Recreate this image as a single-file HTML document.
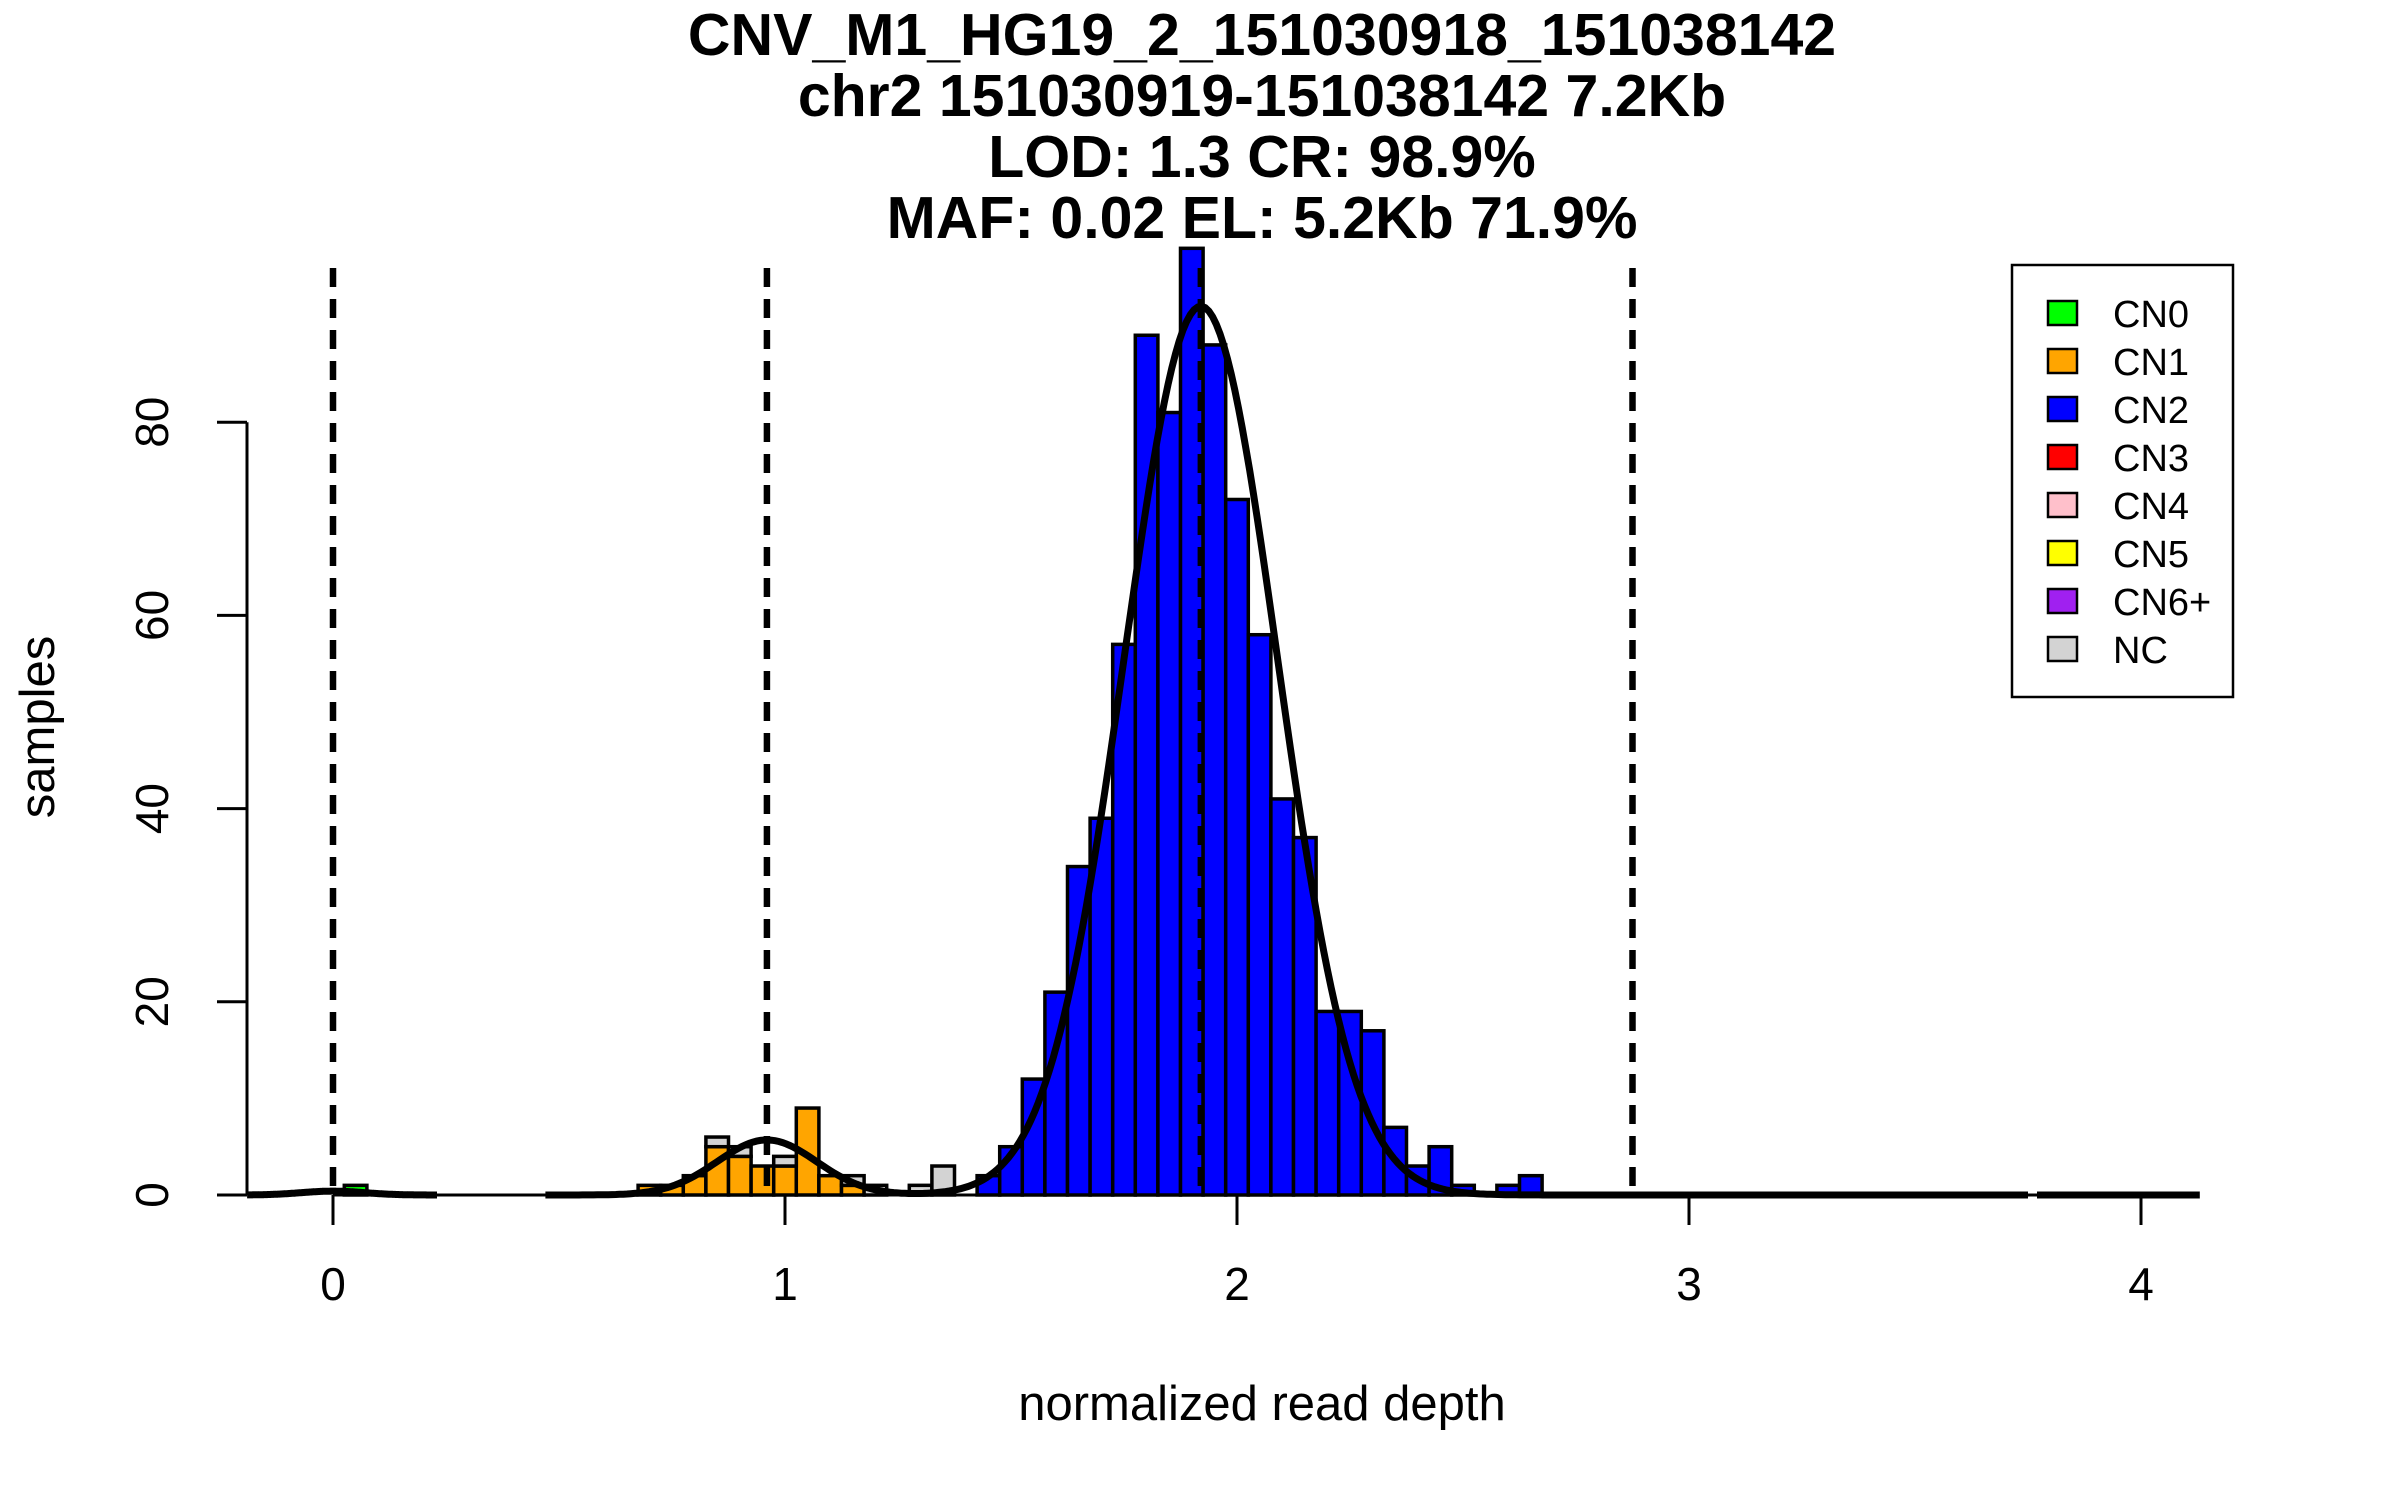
<!DOCTYPE html>
<html><head><meta charset="utf-8"><style>
html,body{margin:0;padding:0;background:#fff}
svg{display:block;font-family:"Liberation Sans",sans-serif}
</style></head><body>
<svg id="chart" width="2400" height="1500" viewBox="0 0 2400 1500" xmlns="http://www.w3.org/2000/svg">
<g id="titles" font-weight="bold" font-size="59" text-anchor="middle">
<text x="1262" y="55">CNV_M1_HG19_2_151030918_151038142</text>
<text x="1262" y="116">chr2 151030919-151038142 7.2Kb</text>
<text x="1262" y="177">LOD: 1.3 CR: 98.9%</text>
<text x="1262" y="238">MAF: 0.02 EL: 5.2Kb 71.9%</text>
</g>
<g id="bars"></g>
<g id="curves"></g>
<g id="vlines"></g>
<g id="axes"></g>
<text x="1262" y="1420" font-size="49" text-anchor="middle">normalized read depth</text>
<text transform="translate(54,727) rotate(-90)" font-size="49" text-anchor="middle">samples</text>
<g id="legend"></g>
</svg>
<script>
// ---- data ----
const binWidth = 0.05;
const blueStarts = [1.425,1.475,1.525,1.575,1.625,1.675,1.725,1.775,1.825,1.875,1.925,1.975,2.025,2.075,2.125,2.175,2.225,2.275,2.325,2.375,2.425,2.475,2.525,2.575,2.625];
const blueCounts = [2,5,12,21,34,39,57,89,81,98,88,72,58,41,37,19,19,17,7,3,5,1,0,1,2];
const orangeStarts = [0.675,0.725,0.775,0.825,0.875,0.925,0.975,1.025,1.075,1.125];
const orangeCounts = [1,1,2,5,4,3,3,9,2,1];
const grayStarts = [0.825,0.875,0.975,1.125,1.175,1.275,1.325];
const grayBase = [5,4,3,1,0,0,0];
const grayCounts = [1,1,1,1,1,1,3];
const greenStarts = [0.025];
const greenCounts = [1];
const fitMeans = [0, 0.96, 1.92];
const fitPeaks = [0.4, 5.7, 92];
const fitSds = [0.07, 0.11, 0.169];
const curveSegments = [[-0.19,0.23],[0.47,3.75],[3.77,4.13]];
const thresholds = [0, 0.96, 1.92, 2.875];
const xTicks = [0,1,2,3,4];
const yTicks = [0,20,40,60,80];
const legendLabels = ["CN0","CN1","CN2","CN3","CN4","CN5","CN6+","NC"];
const legendColors = ["#00ff00","#ffa500","#0000ff","#ff0000","#ffc0cb","#ffff00","#a020f0","#d3d3d3"];

// ---- scales ----
const X0 = 333, XU = 452, Y0 = 1195, YU = 9.66;
const sx = v => X0 + v * XU;
const sy = v => Y0 - v * YU;
const NS = "http://www.w3.org/2000/svg";
function mk(tag, parent, attrs) {
  const e = document.createElementNS(NS, tag);
  for (const k in attrs) e.setAttribute(k, attrs[k]);
  parent.appendChild(e);
  return e;
}
const bars = document.getElementById('bars');
function drawBars(starts, base, counts, color, name) {
  starts.forEach((s, i) => {
    const b = base ? base[i] : 0;
    const c = counts[i];
    if (c <= 0) return;
    const r = mk('rect', bars, {x: sx(s), y: sy(b + c), width: binWidth * XU, height: c * YU,
      fill: color, stroke: '#000', 'stroke-width': 3.5});
    
    
  });
}
drawBars(greenStarts, null, greenCounts, '#00ff00', 'cn0');
drawBars(orangeStarts, null, orangeCounts, '#ffa500', 'cn1');
drawBars(grayStarts, grayBase, grayCounts, '#d3d3d3', 'nc');
drawBars(blueStarts, null, blueCounts, '#0000ff', 'cn2');

// curves
const curves = document.getElementById('curves');
function dens(x) {
  let s = 0;
  for (let i = 0; i < fitMeans.length; i++) s += fitPeaks[i] * Math.exp(-0.5 * Math.pow((x - fitMeans[i]) / fitSds[i], 2));
  return s;
}
curveSegments.forEach(seg => {
  let d = '';
  const n = 400;
  for (let i = 0; i <= n; i++) {
    const x = seg[0] + (seg[1] - seg[0]) * i / n;
    d += (i ? 'L' : 'M') + sx(x).toFixed(1) + ',' + sy(dens(x)).toFixed(1);
  }
  const p = mk('path', curves, {d: d, fill: 'none', stroke: '#000', 'stroke-width': 7});
  
  
});

// threshold lines
const vl = document.getElementById('vlines');
thresholds.forEach(t => {
  const l = mk('line', vl, {x1: sx(t), x2: sx(t), y1: 268, y2: Y0, stroke: '#000', 'stroke-width': 6.5, 'stroke-dasharray': '19,12'});
  
  
});

// axes
const ax = document.getElementById('axes');
const xl = mk('line', ax, {x1: sx(xTicks[0]), x2: sx(xTicks[xTicks.length-1]), y1: Y0, y2: Y0, stroke: '#000', 'stroke-width': 3});


xTicks.forEach(t => {
  const tk = mk('line', ax, {x1: sx(t), x2: sx(t), y1: Y0, y2: Y0 + 30, stroke: '#000', 'stroke-width': 3});
  
  
  const tx = mk('text', ax, {x: sx(t), y: 1300, 'font-size': 46, 'text-anchor': 'middle'});
  tx.textContent = t;
  
  
});
const yl = mk('line', ax, {x1: 247, x2: 247, y1: sy(yTicks[yTicks.length-1]), y2: sy(yTicks[0]), stroke: '#000', 'stroke-width': 3});


yTicks.forEach(t => {
  const tk = mk('line', ax, {x1: 217, x2: 247, y1: sy(t), y2: sy(t), stroke: '#000', 'stroke-width': 3});
  
  
  const tx = mk('text', ax, {'font-size': 46, 'text-anchor': 'middle', transform: 'translate(168,' + sy(t) + ') rotate(-90)'});
  tx.textContent = t;
  
  
});

// legend
const lg = document.getElementById('legend');
const box = mk('rect', lg, {x: 2012, y: 265, width: 221, height: 432, fill: '#fff', stroke: '#000', 'stroke-width': 2.5});


legendLabels.forEach((lab, i) => {
  const cy = 313 + i * 48;
  const sw = mk('rect', lg, {x: 2048, y: cy - 12, width: 29, height: 24, fill: legendColors[i], stroke: '#000', 'stroke-width': 2.5});
  
  
  const tx = mk('text', lg, {x: 2113, y: cy + 14, 'font-size': 38});
  tx.textContent = lab;
  
  
});
</script>
</body></html>
